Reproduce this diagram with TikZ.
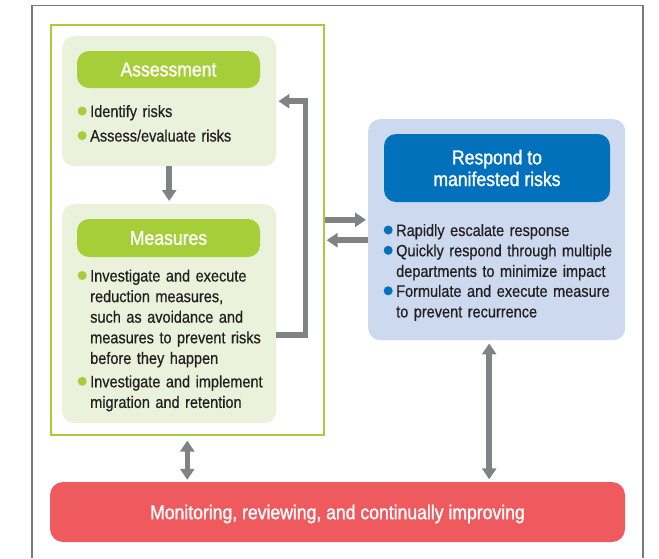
\documentclass[tikz,border=0pt]{standalone}
\usepackage{fontspec}
\setmainfont{Liberation Sans}[FakeStretch=0.88,FakeBold=0.5]
\newfontfamily\headfam{Liberation Sans}[FakeStretch=0.88,FakeBold=1.2]
\usetikzlibrary{arrows.meta,calc}
\definecolor{lgreen}{HTML}{EAF2DC}
\definecolor{mgreen}{HTML}{A6CE39}
\definecolor{lblue}{HTML}{CDD9EE}
\definecolor{dblue}{HTML}{0171BB}
\definecolor{redbox}{HTML}{EF5A5F}
\definecolor{arrgray}{HTML}{808285}
\definecolor{framegray}{HTML}{7A7A7A}
\definecolor{txt}{HTML}{231F20}
\newcommand{\bodyfont}{\fontsize{16.5}{20.6}\selectfont}
\newcommand{\headfont}{\headfam\fontsize{20}{21.7}\selectfont}
\newcommand{\gdot}{\leavevmode\llap{\tikz[baseline=-6pt]\fill[mgreen] (0,0) circle (4.5pt);\hspace{3.5pt}}}
\newcommand{\bdot}{\leavevmode\llap{\tikz[baseline=-6pt]\fill[dblue] (0,0) circle (4.5pt);\hspace{3.5pt}}}
\begin{document}
\begin{tikzpicture}[x=1pt,y=-1pt,
  lightbox/.style={anchor=north west, inner sep=0pt, rounded corners=12pt, draw=none},
  pill/.style={inner sep=0pt, rounded corners=12pt, text=white, font=\headfont, align=center},
  bitem/.style={anchor=base west, inner sep=0pt, text width=235pt, align=left, font=\bodyfont, text=txt},
  arr/.style={draw=arrgray, line width=5.5pt, -{Triangle[width=14pt,length=11pt]}},
  darr/.style={draw=arrgray, line width=5.5pt, {Triangle[width=14pt,length=11pt]}-{Triangle[width=14pt,length=11pt]}}
]
\useasboundingbox (0,0) rectangle (659,558);
% outer frame
\draw[framegray, line width=1.3pt] (32,558) -- (32,5.3) -- (643,5.3) -- (643,558);
% green frame
\node[anchor=north west, inner sep=0pt, draw=mgreen, line width=1.6pt, minimum width=273pt, minimum height=410pt] (frame) at (50,24) {};
% assessment
\node[lightbox, fill=lgreen, minimum width=214pt, minimum height=130pt] (assess) at (62,36) {};
\node[pill, fill=mgreen, minimum width=183pt, minimum height=37pt] (ahead) at (168.5,69.5) {Assessment};
\node[bitem] (a1) at (90,117) {\gdot Identify risks};
\node[bitem] (a2) at (90,141.5) {\gdot Assess/evaluate risks};
% measures
\node[lightbox, fill=lgreen, minimum width=214pt, minimum height=219pt] (meas) at (62,204) {};
\node[pill, fill=mgreen, minimum width=183pt, minimum height=38pt] (mhead) at (168.5,238) {Measures};
\node[bitem] (m1) at (90,281.5) {\gdot Investigate and execute\\reduction measures,\\such as avoidance and\\measures to prevent risks\\before they happen};
\node[bitem] (m2) at (90,387.3) {\gdot Investigate and implement\\migration and retention};
% respond
\node[lightbox, fill=lblue, minimum width=257pt, minimum height=221pt] (resp) at (368,119) {};
\node[pill, fill=dblue, minimum width=226pt, minimum height=68pt] (rhead) at (497,168) {Respond to\\manifested risks};
\node[bitem] (r1) at (396,236) {\bdot Rapidly escalate response};
\node[bitem] (r2) at (396,256.3) {\bdot Quickly respond through multiple\\departments to minimize impact};
\node[bitem] (r3) at (396,296.8) {\bdot Formulate and execute measure\\to prevent recurrence};
% monitoring
\node[inner sep=0pt, rounded corners=13pt, fill=redbox, text=white, font=\headfont, minimum width=575pt, minimum height=60pt, text height=14.3pt, text depth=0pt] (mon) at (337.5,512) {Monitoring, reviewing, and continually improving};
% helper coordinates
\coordinate (ra) at ($(frame.east)+(0,-10)$);
\coordinate (la) at ($(resp.west)+(0,10.5)$);
\coordinate (fb) at ($(meas.east)+(0,21.5)$);
\coordinate (va) at ($(resp.south)+(-7.5,0)$);
% arrows
\draw[arr, shorten >=3pt] (assess.south) -- (meas.north);
\draw[arr, shorten >=2pt] (fb) -- ++(29,0) |- (assess.east);
\draw[arr, shorten >=2pt] (ra) -- (ra -| resp.west);
\draw[arr, shorten >=2pt] (la) -- (la -| frame.east);
\draw[darr, shorten <=5pt, shorten >=2pt] (frame.south) -- (frame.south |- mon.north);
\draw[darr, shorten <=3pt, shorten >=2.5pt] (va) -- (va |- mon.north);
\end{tikzpicture}
\end{document}
